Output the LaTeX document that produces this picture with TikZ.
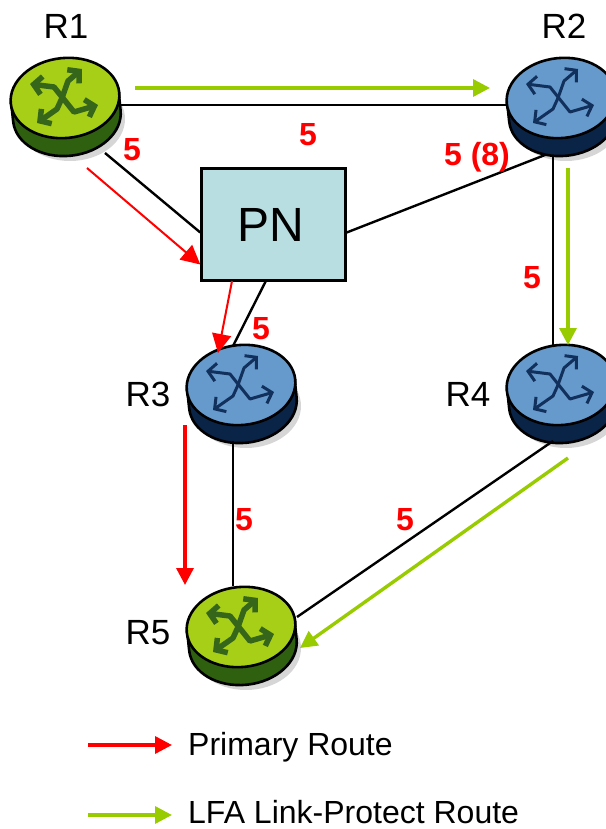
\documentclass[tikz,border=0pt]{standalone}
\usepackage{fontspec}
\setmainfont{Liberation Sans}
\usetikzlibrary{arrows.meta,shapes.geometric,calc}
\definecolor{grtop}{HTML}{A8CF17}
\definecolor{grside}{HTML}{2F6010}
\definecolor{gricon}{HTML}{35661A}
\definecolor{bltop}{HTML}{6699CC}
\definecolor{blside}{HTML}{0A2448}
\definecolor{blicon}{HTML}{12305C}
\definecolor{pnfill}{HTML}{B9DEE1}
\definecolor{lfagreen}{HTML}{99CC00}
\definecolor{redroute}{HTML}{FF0000}
\tikzset{
  link/.style={draw=black,line width=2.4pt},
  prim/.style={draw=redroute,line width=3.4pt,-{Triangle[length=17pt,width=17pt]}},
  primthin/.style={draw=redroute,line width=2pt,-{Triangle[length=19pt,width=19pt]}},
  lfa/.style={draw=lfagreen,line width=3.4pt,-{Triangle[length=17pt,width=17pt]}},
  metric/.style={text=redroute,font=\fontsize{32}{32}\selectfont\bfseries,inner sep=0pt},
  rlabel/.style={font=\fontsize{35}{35}\selectfont,inner sep=0pt},
  legendtext/.style={font=\fontsize{32}{32}\selectfont,inner sep=0pt,anchor=base west},
  routerbody/.style={ellipse,minimum width=110pt,minimum height=98pt,inner sep=0pt},
  pnbox/.style={draw=black,line width=2.4pt,fill=pnfill,minimum width=144pt,minimum height=112pt,inner sep=0pt,font=\fontsize{48}{48}\selectfont}
}
% name, centre x, centre y of top face, top colour, side colour, icon colour, icon line width
\newcommand{\routerdisc}[7]{%
  \node[routerbody] (#1) at (#2,#3+7) {};
  \begin{scope}[shift={(#2,#3)}]
    \fill[black!16] (5,21) ellipse [x radius=55,y radius=42];
    \path[fill=#5,draw=black,line width=2.6pt,rotate=6]
      (-54,0) -- (-54,18) arc [start angle=180,end angle=0,x radius=54,y radius=40] -- (54,0) -- cycle;
    \draw[fill=#4,draw=black,line width=2.6pt,rotate=6] (0,0) ellipse [x radius=54.5,y radius=40];
    \draw[#6,line width=#7,line join=round,{Straight Barb[length=8pt,width=18pt]}-{Straight Barb[length=8pt,width=18pt]}]
      (-35,-14) -- (-11,-11) -- (9,14) -- (33,7);
    \draw[#6,line width=#7,line join=round,{Straight Barb[length=8pt,width=18pt]}-{Straight Barb[length=8pt,width=18pt]}]
      (17,-29) -- (3,-17) -- (-3,0) -- (-8,11) -- (-28,25);
  \end{scope}
}
\begin{document}
\begin{tikzpicture}[x=1pt,y=-1pt]
\useasboundingbox (0,0) rectangle (605,829);
\node[pnbox] (pn) at (273.5,224.5) {\kern-6pt PN};
\routerdisc{r1}{65}{98}{grtop}{grside}{gricon}{5.5pt}
\routerdisc{r2}{561}{98}{bltop}{blside}{blicon}{3pt}
\routerdisc{r3}{241}{385}{bltop}{blside}{blicon}{3pt}
\routerdisc{r4}{561}{385}{bltop}{blside}{blicon}{3pt}
\routerdisc{r5}{241}{627}{grtop}{grside}{gricon}{5.5pt}
% links
\draw[link] (r1.0) -- (r2.180);
\draw[link] ([shift={(40,48)}]r1.center) -- ([shift={(0,8)}]pn.west);
\draw[link] ([shift={(0,8)}]pn.east) -- ([shift={(-16,50)}]r2.center);
\draw[link] ([shift={(-8,50)}]r2.center) -- ([shift={(-8,-46)}]r4.center);
\draw[link] ([shift={(-8,0)}]pn.south) -- ([shift={(-8,-46)}]r3.center);
\draw[link] ([shift={(-8,49)}]r3.center) -- ([shift={(-8,-48)}]r5.center);
\draw[link] ([shift={(-8,49)}]r4.center) -- ([shift={(56,-17)}]r5.center);
% routes
\coordinate (a1s) at (87,168);
\coordinate (a2s) at (232,281);
\coordinate (a3s) at (185,425);
\coordinate (a3e) at (185,585);
\coordinate (g1s) at (135,88);
\coordinate (g1e) at (490,88);
\coordinate (g2s) at (568,168);
\coordinate (g2e) at (568,345);
\coordinate (g3s) at (568,458);
\coordinate (g3e) at (300,648);
\coordinate (l1s) at (88,745);
\coordinate (l1e) at (172,745);
\coordinate (l2s) at (88,815);
\coordinate (l2e) at (172,815);
\draw[primthin] (a1s) -- ([shift={(0,40)}]pn.west);
\draw[primthin] (a2s) -- ([shift={(-23,-39)}]r3.center);
\draw[prim] (a3s) -- (a3e);
\draw[lfa] (g1s) -- (g1e);
\draw[lfa] (g2s) -- (g2e);
\draw[lfa] (g3s) -- (g3e);
% labels
\node[rlabel] (t1) at (66,26) {R1};
\node[rlabel] (t2) at (564,26) {R2};
\node[rlabel] (t3) at (148,394) {R3};
\node[rlabel] (t4) at (468,394) {R4};
\node[rlabel] (t5) at (148,633) {R5};
\node[metric] (m1) at (132,150) {5};
\node[metric] (m2) at (308,135) {5};
\node[metric] (m3) at (477,157) {5 (8)};
\node[metric] (m4) at (532,278) {5};
\node[metric] (m5) at (261,329) {5};
\node[metric] (m6) at (244,520) {5};
\node[metric] (m7) at (405,520) {5};
% legend
\draw[prim] (l1s) -- (l1e);
\draw[lfa] (l2s) -- (l2e);
\node[legendtext] (lg1) at (188,755) {Primary Route};
\node[legendtext] (lg2) at (188,823) {LFA Link-Protect Route};
\end{tikzpicture}
\end{document}
